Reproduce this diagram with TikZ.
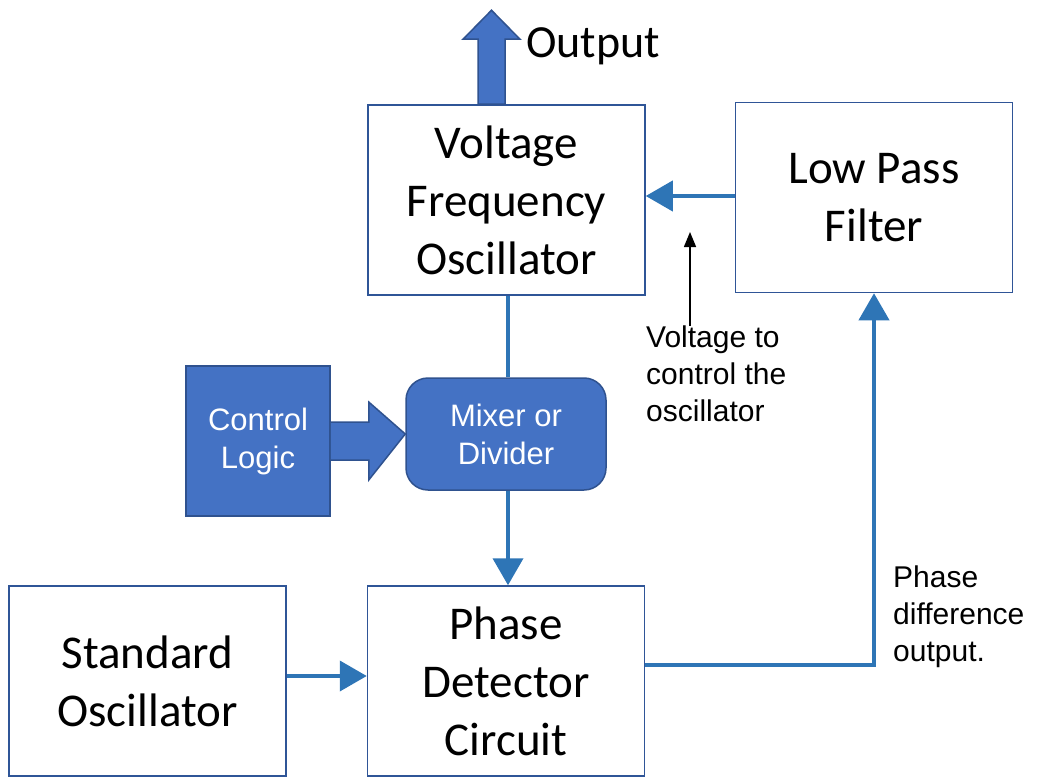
\documentclass[tikz,border=0pt]{standalone}
\usepackage{fontspec}
\setmainfont{Carlito}
\newfontfamily\arialfont{Liberation Sans}
\usetikzlibrary{arrows.meta,calc}
\definecolor{boxline}{HTML}{2F5597}
\definecolor{blockfill}{HTML}{4472C4}
\definecolor{blockline}{HTML}{2F528F}
\definecolor{connblue}{HTML}{2E75B6}
\tikzset{
  whitebox/.style={draw=boxline, line width=1.5pt, fill=white, minimum width=277pt, minimum height=190pt, inner sep=0pt, align=center, font=\fontsize{47}{58}\selectfont},
  bluebox/.style={draw=blockline, line width=1.5pt, fill=blockfill, text=white, inner sep=0pt, align=center, font=\arialfont\fontsize{31}{38}\selectfont},
  conn/.style={draw=connblue, line width=4pt, -{Triangle[width=30pt,length=27pt]}},
  plainconn/.style={draw=connblue, line width=4pt},
  blockarrow/.style={draw=blockline, line width=1.5pt, fill=blockfill},
  note/.style={inner sep=0pt, align=left, anchor=north west, font=\arialfont\fontsize{30}{37}\selectfont},
}
\begin{document}
\begin{tikzpicture}[x=1pt,y=-1pt]
\useasboundingbox (0,0) rectangle (1038,778);
\node[whitebox] (VFO) at (506.5,200) {Voltage\\Frequency\\Oscillator};
\node[whitebox] (LPF) at (874,197.5) {Low Pass\\Filter};
\node[whitebox] (STD) at (147.5,681) {Standard\\Oscillator};
\node[whitebox] (PD) at (506,681) {Phase\\Detector\\Circuit};
\node[bluebox, minimum width=144pt, minimum height=150pt] (CL) at (258,441) {Control\\Logic};
\node[bluebox, rounded corners=22pt, minimum width=200pt, minimum height=112pt] (MIX) at (506,434) {Mixer or\\Divider};
\coordinate (vline) at (508,0);
% output block arrow
\coordinate (ob) at ($(VFO.north)+(-15,0)$);
\draw[blockarrow] ($(ob)+(-13.5,0)$) -- ++(0,-65) -- ++(-15,0) -- ($(ob)+(0,-94)$) -- ($(ob)+(28.5,-65)$) -- ++(-15,0) -- ($(ob)+(13.5,0)$) -- cycle;
\node[anchor=west, inner sep=0pt, font=\fontsize{46}{55}\selectfont] (OUT) at (526,46) {Output};
% control logic block arrow
\draw[blockarrow] ($(CL.east)+(0,-19)$) -- ++(38,0) -- ++(0,-20) -- (MIX.west) -- ($(CL.east)+(38,39)$) -- ++(0,-20) -- ($(CL.east)+(0,19)$);
% connectors
\draw[plainconn] (vline |- VFO.south) -- (vline |- MIX.north);
\draw[conn] (vline |- MIX.south) -- (vline |- PD.north);
\draw[conn] ([yshift=5pt]STD.east) -- ([yshift=5pt]PD.west);
\draw[conn] ([yshift=16pt]PD.east) -| (LPF.south);
\draw[conn] ([yshift=1.5pt]LPF.west) -- ([yshift=1.5pt]LPF.west -| VFO.east);
% notes
\node[note] (VN) at (646,326) {Voltage to\\control the\\oscillator};
\coordinate (vstart) at (690,326);
\coordinate (vtip) at (690,232);
\draw[line width=1.5pt, -{Triangle[width=12pt,length=15pt]}] (vstart) -- (vtip);
\node[note] (PN) at (893,566) {Phase\\difference\\output.};
\end{tikzpicture}
\end{document}
